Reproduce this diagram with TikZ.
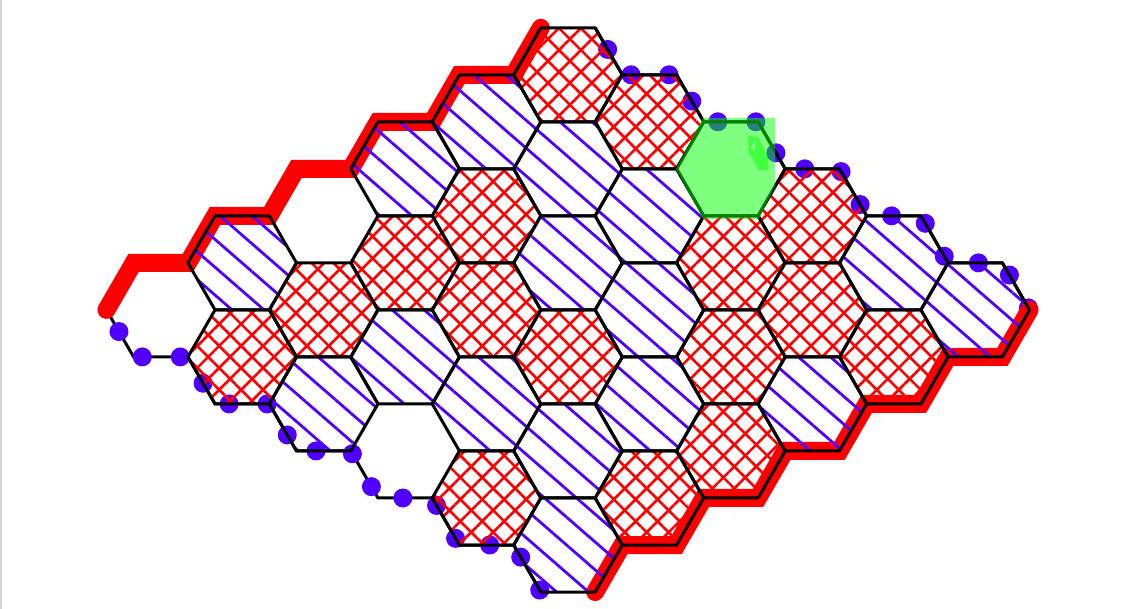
\documentclass[tikz,border=0pt]{standalone}
\usetikzlibrary{patterns.meta}
\definecolor{hexblue}{RGB}{80,0,255}
\definecolor{hexred}{RGB}{255,0,0}
\definecolor{hexgreen}{RGB}{0,255,0}
\definecolor{edgegray}{RGB}{212,212,212}
\begin{document}
\begin{tikzpicture}[x=1pt,y=-1pt,
  hexcell/.style={draw=black, line width=3pt, line join=round},
  redcell/.style={hexcell, pattern={Hatch[angle=45,distance=15.5pt,line width=2.6pt]}, pattern color=hexred},
  bluecell/.style={hexcell, pattern={Lines[angle=-41,distance=21pt,line width=2.8pt]}, pattern color=hexblue},
  redborder/.style={draw=hexred, line width=18pt, line cap=round, line join=miter},
  blueline/.style={draw=black, line width=3pt},
  bluedots/.style={draw=hexblue, line width=19pt, line cap=round, dash pattern=on 0pt off 38pt, dash phase=13pt},
  greenmark/.style={fill=hexgreen, fill opacity=0.5},
]
\useasboundingbox (0,0) rectangle (1137,609);
\draw[edgegray, line width=1.5pt] (0.75,0) -- (0.75,609);

% hex centres and vertices
\foreach \i in {0,...,5}{\foreach \j in {0,...,5}{
  \pgfmathsetmacro\cx{568+81.45*(\i-\j)}
  \pgfmathsetmacro\cy{74.8+47.02*(\i+\j)}
  \coordinate (h\i\j) at (\cx,\cy);
  \coordinate (h\i\j-L) at (\cx-54.3,\cy);
  \coordinate (h\i\j-R) at (\cx+54.3,\cy);
  \coordinate (h\i\j-TL) at (\cx-27.15,\cy-47.02);
  \coordinate (h\i\j-TR) at (\cx+27.15,\cy-47.02);
  \coordinate (h\i\j-BL) at (\cx-27.15,\cy+47.02);
  \coordinate (h\i\j-BR) at (\cx+27.15,\cy+47.02);
}}

% blue borders (dotted)
\path[blueline] (h00-TR) \foreach \i in {0,...,4}{ -- (h\i0-R) -- (h\the\numexpr\i+1\relax0-TR)} -- (h50-R);
\path[bluedots] (h00-TR) \foreach \i in {0,...,4}{ -- (h\i0-R) -- (h\the\numexpr\i+1\relax0-TR)} -- (h50-R);
\path[blueline] (h05-L) \foreach \i in {0,...,4}{ -- (h\i5-BL) -- (h\i5-BR)} -- (h55-BL);
\path[bluedots] (h05-L) \foreach \i in {0,...,4}{ -- (h\i5-BL) -- (h\i5-BR)} -- (h55-BL);

% red borders (thick)
\path[redborder, shift={(-1,-2)}] (h05-L) \foreach \j in {5,...,1}{ -- (h0\j-TL) -- (h0\j-TR)} -- (h00-TL);
\path[redborder, shift={(1,2)}] (h50-R) \foreach \j in {0,...,4}{ -- (h5\j-BR) -- (h5\j-BL)} -- (h55-BR);

% cells
\foreach \c in {00,10,12,13,14,15,23,30,31,33,41,42,45,51,53,54}{
  \path[redcell] (h\c-L) -- (h\c-TL) -- (h\c-TR) -- (h\c-R) -- (h\c-BR) -- (h\c-BL) -- cycle;
}
\foreach \c in {01,02,04,11,21,22,24,25,32,34,40,43,44,50,52,55}{
  \path[bluecell] (h\c-L) -- (h\c-TL) -- (h\c-TR) -- (h\c-R) -- (h\c-BR) -- (h\c-BL) -- cycle;
}
\path[hexcell] (h20-L) -- (h20-TL) -- (h20-TR) -- (h20-R) -- (h20-BR) -- (h20-BL) -- cycle;

% green highlight
\coordinate (g1) at (676,169);
\coordinate (g2) at (703,118);
\coordinate (g3) at (775,118);
\coordinate (g4) at (775,186);
\coordinate (g5) at (759,219);
\coordinate (g6) at (703,219);
\path[greenmark] (g1) -- (g2) -- (g3) -- (g4) -- (g5) -- (g6) -- cycle;
\coordinate (m1) at (748,136);
\coordinate (m2) at (758,137);
\coordinate (m3) at (768,157);
\coordinate (m4) at (768,170);
\coordinate (m5) at (759,170);
\coordinate (m6) at (749,153);
\path[greenmark] (m1) -- (m2) -- (m3) -- (m4) -- (m5) -- (m6) -- cycle;
\coordinate (s1) at (750,148);
\coordinate (s2) at (755,141);
\coordinate (s3) at (755,150);
\path[fill=white, fill opacity=0.4] (s1) -- (s2) -- (s3) -- cycle;
\end{tikzpicture}
\end{document}
